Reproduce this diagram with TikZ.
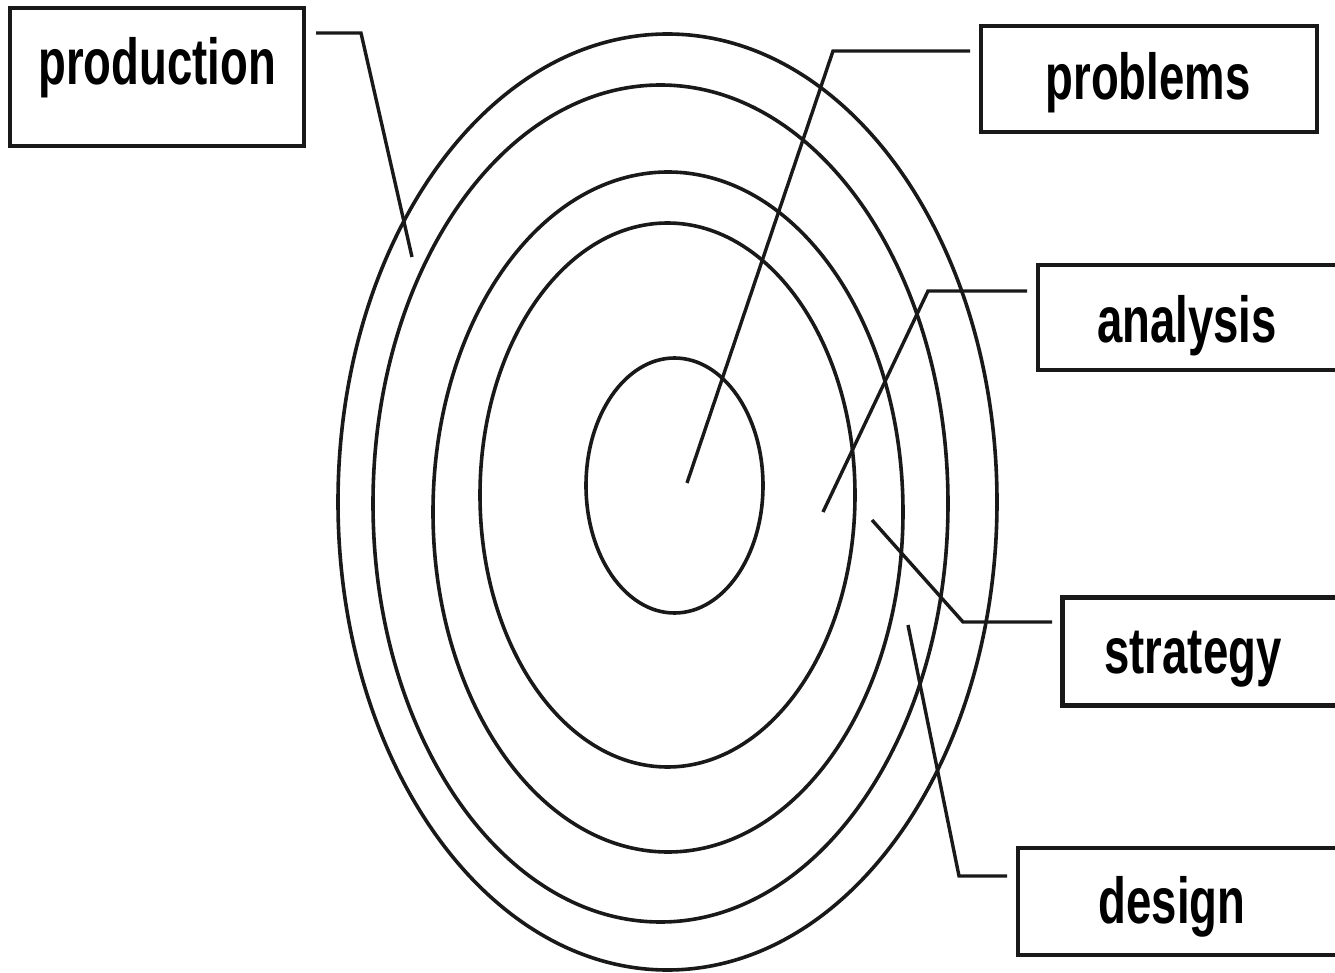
\documentclass[tikz,border=0pt]{standalone}
\usepackage{fontspec}
\newfontfamily\labelfont[FakeStretch=0.70]{Liberation Sans}
\begin{document}
\begin{tikzpicture}[x=0.5pt,y=-0.5pt,
  ring/.style={draw=black!90,line width=1.8pt},
  leader/.style={draw=black!90,line width=1.7pt},
  stagebox/.style={draw=black!90,line width=1.7pt,rectangle,inner sep=0pt,anchor=center},
  stagetext/.style={anchor=base,font=\labelfont\bfseries\fontsize{32.5}{36}\selectfont,text=black,inner sep=0pt}]
\path[use as bounding box,clip] (0,0) rectangle (1335,973);
\fill[white] (0,0) rectangle (1335,973);

% concentric rings
\draw[ring] (667.5,502) ellipse [x radius=164.75pt,y radius=234pt];
\draw[ring] (660.5,503.5) ellipse [x radius=143.75pt,y radius=209.25pt];
\draw[ring] (668,512) ellipse [x radius=117.5pt,y radius=170pt];
\draw[ring] (667.5,495) ellipse [x radius=93.75pt,y radius=136pt];
\draw[ring] (674.5,485.5) ellipse [x radius=44.25pt,y radius=63.75pt];

% label boxes
\node[stagebox,minimum width=147pt,minimum height=69pt] (production) at (157,77) {};
\node[stagebox,minimum width=168pt,minimum height=53pt] (problems) at (1149,79) {};
\node[stagebox,minimum width=151pt,minimum height=52.5pt] (analysis) at (1189,317.5) {};
\node[stagebox,line width=2.5pt,minimum width=139pt,minimum height=54pt] (strategy) at (1201,651) {};
\node[stagebox,minimum width=161pt,minimum height=53.5pt] (design) at (1179,901.5) {};

% label texts
\node[stagetext] (tproduction) at (157,85) {production};
\node[stagetext] (tproblems) at (1148,100) {problems};
\node[stagetext] (tanalysis) at (1187,343) {analysis};
\node[stagetext] (tstrategy) at (1193,673) {strategy};
\node[stagetext] (tdesign) at (1172,923) {design};

% leader line points
\coordinate (prodA) at (316,33);  \coordinate (prodB) at (361,33);  \coordinate (prodC) at (412,257);
\coordinate (probA) at (970,51);  \coordinate (probB) at (833,51);  \coordinate (probC) at (687,483);
\coordinate (anaA) at (1027,291); \coordinate (anaB) at (928,291);  \coordinate (anaC) at (823,512);
\coordinate (strA) at (1052,622); \coordinate (strB) at (963,622);  \coordinate (strC) at (872,520);
\coordinate (desA) at (1007,876); \coordinate (desB) at (959,876);  \coordinate (desC) at (908,625);

% leader lines
\draw[leader] (prodA) -- (prodB) -- (prodC);
\draw[leader] (probA) -- (probB) -- (probC);
\draw[leader] (anaA) -- (anaB) -- (anaC);
\draw[leader] (strA) -- (strB) -- (strC);
\draw[leader] (desA) -- (desB) -- (desC);
\end{tikzpicture}
\end{document}
